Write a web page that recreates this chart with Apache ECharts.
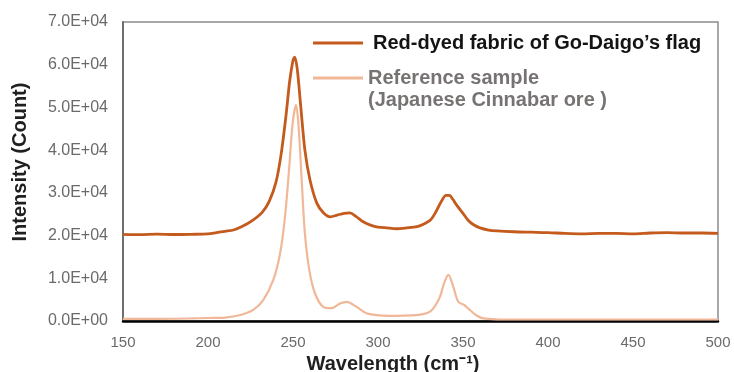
<!DOCTYPE html>
<html>
<head>
<meta charset="utf-8">
<script src="https://cdn.jsdelivr.net/npm/echarts@6/dist/echarts.min.js"></script>
<style>
html,body{margin:0;padding:0;background:#fff;}
#chart{width:734px;height:372px;}
</style>
</head>
<body>
<div id="chart"></div>
<script>
// Series names
const seriesNames = ["Red-dyed fabric of Go-Daigo\u2019s flag", "Reference sample"];
const legendSecondLine = "(Japanese Cinnabar ore )";

// Red-dyed fabric (dark line)
const fabricX = [150,160,170,180,190,200,205,210,215,220,226,232,236,240,243,246,248,250,251,252.5,254.5,257,260,264,268,272,276,280,283.5,287,291,296,300,305,311,317,323,327,331,334,337,340,342,344,346.5,350,353,356,360,365,370,380,390,400,410,420,430,440,450,460,470,480,490,500];
const fabricY = [20300,20200,20350,20250,20300,20400,20700,21000,21300,22100,23500,25500,28000,32500,39000,48500,56000,61000,61800,59000,50500,40000,33000,27600,25300,24400,24800,25200,25300,24500,23300,22400,22000,21800,21600,21800,22100,22700,23700,25500,27800,29400,29400,28500,27000,25200,23600,22600,21800,21300,21100,20900,20800,20700,20500,20400,20500,20500,20400,20600,20700,20600,20600,20500];

// Reference sample (light line)
const refX = [150,170,190,200,210,219,226.6,232.5,238.4,242.4,245.3,247.8,249.8,251.8,253.3,255.1,257,259.6,262.9,267.8,272.7,277.6,281.6,287.5,293.3,301,310,320,326.6,330.6,333.5,336.5,339,341.4,344.3,347.2,350.5,354,358,362,370,400,450,500];
const refY = [500,500,600,700,800,1400,2600,4900,9600,15800,24400,36100,46300,50600,45500,33000,20500,11900,6500,3300,3000,4100,4500,3300,1800,1300,1200,1300,1600,2200,3500,5700,9000,10800,8000,4500,3800,2600,1300,600,400,350,350,350];

// Axis settings
const xMin = 150, xMax = 500, xStep = 50;
const yMin = 0, yMax = 70000, yStep = 10000;
const xTitle = "Wavelength (cm\u207B\u00B9)";
const yTitle = "Intensity (Count)";

function sci(v){
  if (v === 0) return "0.0E+00";
  const e = Math.floor(Math.log10(Math.abs(v)));
  const m = v / Math.pow(10, e);
  return m.toFixed(1) + "E+" + String(e).padStart(2, "0");
}
const zip = (xs, ys) => xs.map((x, i) => [x, ys[i]]);

const FONT = 'Liberation Sans, Arial, sans-serif';
const chart = echarts.init(document.getElementById('chart'));
chart.setOption({
  animation: false,
  backgroundColor: '#ffffff',
  textStyle: { fontFamily: FONT },
  grid: { left: 123, right: 16, top: 22, bottom: 51, containLabel: false, outerBoundsMode: 'none',
          show: true, borderColor: '#8c8c8c', borderWidth: 1.5, backgroundColor: 'transparent' },
  xAxis: {
    type: 'value', min: xMin, max: xMax, interval: xStep,
    name: xTitle, nameLocation: 'middle', nameGap: 23,
    nameTextStyle: { fontSize: 20, fontWeight: 'bold', color: '#1f1f1f', padding: [0, 55, 0, 0] },
    axisLine: { show: true, onZero: false, lineStyle: { color: '#000', width: 2.5 } },
    axisTick: { show: false },
    axisLabel: { fontSize: 15, color: '#6a6a6a', margin: 14 },
    splitLine: { show: false }
  },
  yAxis: {
    type: 'value', min: yMin, max: yMax, interval: yStep,
    name: yTitle, nameLocation: 'middle', nameGap: 93, nameRotate: 90,
    nameTextStyle: { fontSize: 20, fontWeight: 'bold', color: '#1f1f1f', padding: [0, 0, 0, 19] },
    axisLine: { show: true, lineStyle: { color: '#6e6e6e', width: 2 } },
    axisTick: { show: false },
    axisLabel: { fontSize: 16, color: '#6a6a6a', margin: 15, formatter: sci },
    splitLine: { show: false }
  },
  legend: {
    orient: 'vertical', left: 313, top: 33, padding: 0, itemWidth: 50, itemHeight: 3, itemGap: 15,
    icon: 'rect',
    data: [
      { name: seriesNames[0], textStyle: { fontSize: 20, fontWeight: 'bold', color: '#141414', padding: [0, 0, 0, 5] } },
      { name: seriesNames[1], textStyle: { fontSize: 20, fontWeight: 'bold', color: '#777373' } }
    ]
  },
  graphic: [{
    type: 'text', left: 368, top: 90,
    style: { text: legendSecondLine, font: 'bold 20px ' + FONT, fill: '#777373' }
  }],
  series: [
    { name: seriesNames[0], type: 'line', data: zip(fabricX, fabricY), showSymbol: false, smooth: 0.3,
      lineStyle: { color: '#C45A1C', width: 2.8 }, itemStyle: { color: '#C45A1C' }, z: 3 },
    { name: seriesNames[1], type: 'line', data: zip(refX, refY), showSymbol: false, smooth: 0.3,
      lineStyle: { color: '#F0B898', width: 2.2 }, itemStyle: { color: '#F0B898' }, z: 2 }
  ]
});
</script>
</body>
</html>
